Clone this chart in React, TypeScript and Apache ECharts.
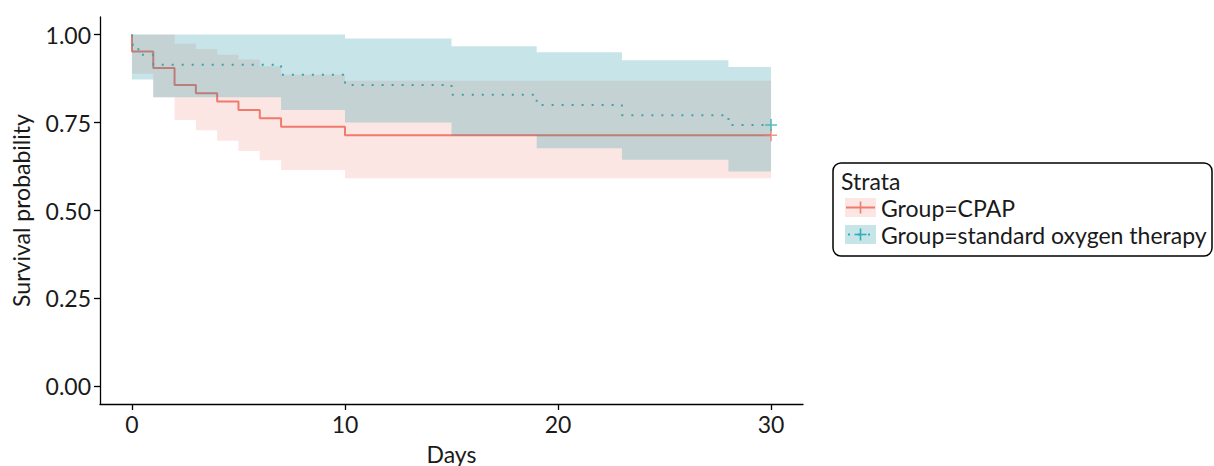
import React, { useEffect, useRef } from "react";
import * as echarts from "echarts";

// ---- data ----
const xTicks = [0, 10, 20, 30];
const yTicks = [0, 0.25, 0.5, 0.75, 1];
const endTime = 30;

const cpapTimes = [0, 1, 2, 3, 4, 5, 6, 7, 10];
const cpapSurv = [0.952, 0.905, 0.857, 0.833, 0.81, 0.786, 0.762, 0.738, 0.714];
const cpapUpper = [1.0, 1.0, 0.974, 0.959, 0.943, 0.929, 0.91, 0.886, 0.869];
const cpapLower = [0.889, 0.822, 0.757, 0.728, 0.698, 0.669, 0.643, 0.615, 0.592];

const oxyTimes = [0, 0.3, 1, 7, 10, 15, 19, 23, 28];
const oxySurv = [0.971, 0.943, 0.914, 0.886, 0.857, 0.829, 0.8, 0.771, 0.743];
const oxyUpper = [1.0, 1.0, 1.0, 1.0, 0.989, 0.967, 0.95, 0.927, 0.908];
const oxyLower = [0.872, 0.872, 0.822, 0.786, 0.75, 0.713, 0.677, 0.644, 0.611];

const RED = "#F07A6C";
const TEAL = "#2FB0B8";
const PINK_FILL = "rgba(238,120,110,0.19)";
const TEAL_FILL = "rgba(20,148,158,0.24)";
const FONT = "Lato";
const FS = 23;
const PLUS = "path://M5.2,0H6.8V12H5.2Z M0,5.2H12V6.8H0Z";

function stepPoints(times: number[], surv: number[]) {
  const pts: number[][] = [[times[0], 1]];
  let prev = 1;
  times.forEach((t, i) => {
    pts.push([t, prev]);
    pts.push([t, surv[i]]);
    prev = surv[i];
  });
  pts.push([endTime, prev]);
  return pts;
}

function bandSeries(times: number[], upper: number[], lower: number[], fill: string, z: number) {
  return {
    type: "custom",
    coordinateSystem: "cartesian2d",
    silent: true,
    z,
    data: [[0, 0]],
    encode: { x: 0, y: 1 },
    renderItem: (_params: any, api: any) => {
      const pts: number[][] = [];
      for (let i = 0; i < times.length; i++) {
        const t0 = times[i];
        const t1 = i + 1 < times.length ? times[i + 1] : endTime;
        pts.push(api.coord([t0, upper[i]]));
        pts.push(api.coord([t1, upper[i]]));
      }
      for (let i = times.length - 1; i >= 0; i--) {
        const t0 = times[i];
        const t1 = i + 1 < times.length ? times[i + 1] : endTime;
        pts.push(api.coord([t1, lower[i]]));
        pts.push(api.coord([t0, lower[i]]));
      }
      return { type: "polygon", shape: { points: pts }, style: { fill } };
    },
  };
}

export default function App() {
  const ref = useRef<HTMLDivElement>(null);
  useEffect(() => {
    if (!ref.current) return;
    const chart = echarts.init(ref.current, undefined, { renderer: "svg" });
    const axisText = { color: "#1a1a1a", fontFamily: FONT, fontSize: FS };
    chart.setOption({
      animation: false,
      grid: { left: 100, right: 411, top: 17, bottom: 62, containLabel: false, outerBoundsMode: "none" },
      xAxis: {
        type: "value",
        min: -1.5,
        max: 31.5,
        name: "Days",
        nameLocation: "middle",
        nameGap: 38,
        nameTextStyle: { ...axisText },
        axisLine: { show: true, onZero: false, lineStyle: { color: "#000", width: 1.3 } },
        axisTick: { show: true, length: 6, customValues: xTicks, lineStyle: { color: "#000", width: 1.3 } },
        axisLabel: { ...axisText, margin: 8, customValues: xTicks, formatter: (v: number) => String(v) },
        splitLine: { show: false },
      },
      yAxis: {
        type: "value",
        min: -0.05,
        max: 1.05,
        name: "Survival probability",
        nameLocation: "middle",
        nameGap: 68,
        nameTextStyle: { ...axisText },
        axisLine: { show: true, onZero: false, lineStyle: { color: "#000", width: 1.3 } },
        axisTick: { show: true, length: 6, customValues: yTicks, lineStyle: { color: "#000", width: 1.3 } },
        axisLabel: { ...axisText, margin: 9, customValues: yTicks, formatter: (v: number) => v.toFixed(2) },
        splitLine: { show: false },
      },
      series: [
        {
          type: "line",
          name: "Group=CPAP",
          data: stepPoints(cpapTimes, cpapSurv),
          showSymbol: false,
          symbol: "none",
          z: 1,
          lineStyle: { color: RED, width: 2 },
        },
        {
          type: "line",
          name: "Group=standard oxygen therapy",
          data: stepPoints(oxyTimes, oxySurv),
          showSymbol: false,
          symbol: "none",
          z: 1,
          lineStyle: { color: TEAL, width: 2, type: [2, 8], cap: "butt" },
        },
        bandSeries(cpapTimes, cpapUpper, cpapLower, PINK_FILL, 2),
        bandSeries(oxyTimes, oxyUpper, oxyLower, TEAL_FILL, 3),
        {
          type: "scatter",
          data: [[endTime, cpapSurv[cpapSurv.length - 1]]],
          symbol: PLUS,
          symbolSize: 12,
          z: 4,
          itemStyle: { color: RED },
        },
        {
          type: "scatter",
          data: [[endTime, oxySurv[oxySurv.length - 1]]],
          symbol: PLUS,
          symbolSize: 12,
          z: 5,
          itemStyle: { color: TEAL },
        },
      ],
      graphic: [
        {
          type: "rect",
          shape: { x: 833, y: 163, width: 379, height: 93, r: 8 },
          style: { fill: "#fff", stroke: "#000", lineWidth: 1.5 },
        },
        {
          type: "text",
          x: 841,
          y: 181,
          style: { text: "Strata", fill: "#1a1a1a", font: `${FS}px ${FONT}`, verticalAlign: "middle" },
        },
        { type: "rect", shape: { x: 845, y: 198, width: 31, height: 19 }, style: { fill: PINK_FILL } },
        { type: "line", shape: { x1: 846, y1: 207.5, x2: 875, y2: 207.5 }, style: { stroke: RED, lineWidth: 2 } },
        { type: "line", shape: { x1: 860.5, y1: 201.5, x2: 860.5, y2: 213.5 }, style: { stroke: RED, lineWidth: 1.6 } },
        {
          type: "text",
          x: 881,
          y: 208,
          style: { text: "Group=CPAP", fill: "#1a1a1a", font: `${FS}px ${FONT}`, verticalAlign: "middle" },
        },
        { type: "rect", shape: { x: 845, y: 225, width: 31, height: 19 }, style: { fill: TEAL_FILL } },
        {
          type: "line",
          shape: { x1: 846, y1: 234.5, x2: 875, y2: 234.5 },
          style: { stroke: TEAL, lineWidth: 2, lineDash: [2, 8], lineDashOffset: -2 },
        },
        { type: "line", shape: { x1: 860.5, y1: 228.5, x2: 860.5, y2: 240.5 }, style: { stroke: TEAL, lineWidth: 1.6 } },
        { type: "line", shape: { x1: 854.5, y1: 234.5, x2: 866.5, y2: 234.5 }, style: { stroke: TEAL, lineWidth: 1.6 } },
        {
          type: "text",
          x: 881,
          y: 235,
          style: {
            text: "Group=standard oxygen therapy",
            fill: "#1a1a1a",
            font: `${FS}px ${FONT}`,
            verticalAlign: "middle",
          },
        },
      ],
    });
    return () => chart.dispose();
  }, []);
  return (
    <div
      ref={ref}
      style={{ position: "fixed", left: 0, top: 0, width: 1214, height: 466, background: "#fff" }}
    />
  );
}
